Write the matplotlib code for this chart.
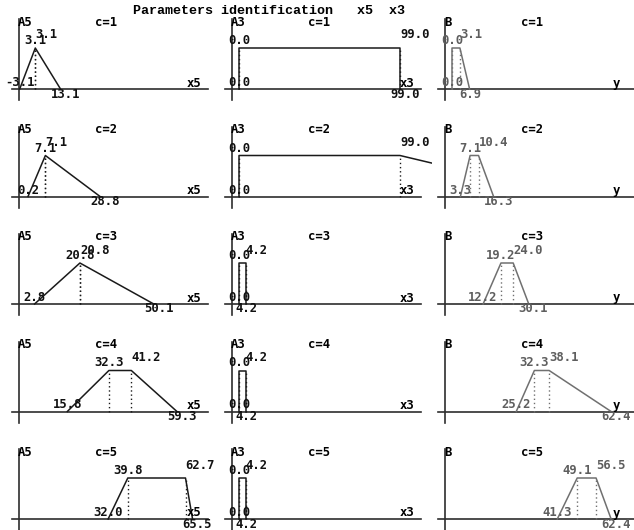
import matplotlib
matplotlib.use("Agg")
import matplotlib.pyplot as plt

W, H = 634, 530
DPI = 100

# cluster names and trapezoid breakpoints (a, b, c, d) for each variable
clusters = ["c=1", "c=2", "c=3", "c=4", "c=5"]
a5_params = [(-3.1, 3.1, 3.1, 13.1),
             (0.2, 7.1, 7.1, 28.8),
             (2.8, 20.8, 20.8, 50.1),
             (15.8, 32.3, 41.2, 59.3),
             (32.0, 39.8, 62.7, 65.5)]
a3_params = [(0.0, 0.0, 99.0, 99.0),
             (0.0, 0.0, 99.0, 205.0),
             (0.0, 0.0, 4.2, 4.2),
             (0.0, 0.0, 4.2, 4.2),
             (0.0, 0.0, 4.2, 4.2)]
b_params = [(0.0, 0.0, 3.1, 6.9),
            (3.3, 7.1, 10.4, 16.3),
            (12.2, 19.2, 24.0, 30.1),
            (25.2, 32.3, 38.1, 62.4),
            (41.3, 49.1, 56.5, 62.4)]

set_names = ["A5", "A3", "B"]
var_names = ["x5", "x3", "y"]
params = [a5_params, a3_params, b_params]

# screen layout (pixels)
axis_px = [19, 232, 445]
zero_px = [27.5, 239, 452]
px_per_unit = [2.52, 1.626, 2.55]
base_px = [89 + 107.5 * i for i in range(5)]
top_h = 41  # height of membership 1.0 in pixels

line_col = ["#1a1a1a", "#1a1a1a", "#707070"]
num_col = ["#111111", "#111111", "#5e5e5e"]
axis_col = "#2e2e2e"

font = dict(family="DejaVu Sans Mono", size=8.8, weight="bold")

fig = plt.figure(figsize=(W / DPI, H / DPI), dpi=DPI, facecolor="white")


def make_axes(col, row):
    x0 = axis_px[col] - 20
    x1 = axis_px[col] + 200
    yb = base_px[row]
    ax = fig.add_axes([x0 / W, 1 - (yb + 14) / H, (x1 - x0) / W, 94 / H])
    ax.set_xlim((x0 - zero_px[col]) / px_per_unit[col],
                (x1 - zero_px[col]) / px_per_unit[col])
    ax.set_ylim(-14 / top_h, 80 / top_h)
    ax.axis("off")
    return ax


def label(ax, text, xy, dx, dy, ha, color):
    ax.annotate(text, xy, xytext=(dx, dy), textcoords="offset pixels",
                ha=ha, va="center", color=color, **font)


for col in range(3):
    for row in range(5):
        ax = make_axes(col, row)
        a, b, c, d = params[col][row]
        xa = (axis_px[col] - zero_px[col]) / px_per_unit[col]
        lo, hi = ax.get_xlim()

        # axes of the small plot
        ax.axhline(0, xmin=13 / 220, xmax=209 / 220, color=axis_col, lw=1.2)
        ax.axvline(xa, ymin=3 / 94, ymax=84 / 94, color=axis_col, lw=1.2)

        # membership function
        ax.plot([a, b, c, d], [0, 1, 1, 0], color=line_col[col], lw=1.1)
        for v in (b, c):
            ax.plot([v, v], [0, 1], color=line_col[col], lw=1.0,
                    ls=(0, (1, 2)))

        # headers
        label(ax, set_names[col], (xa, 0), -1, 67, "left", "black")
        label(ax, clusters[row], (xa, 0), 76, 67, "left", "black")
        label(ax, var_names[col], (xa, 0), 168, 6, "left", "black")

        # breakpoint values
        if lo <= a <= hi:
            label(ax, f"{a:.1f}", (a, 0), 0, 6.5, "center", num_col[col])
        if lo <= d <= hi:
            label(ax, f"{d:.1f}", (d, 0), -10, -5, "left", num_col[col])
        if lo <= b <= hi:
            label(ax, f"{b:.1f}", (b, 1), 0, 7.5, "center", num_col[col])
        if lo <= c <= hi:
            label(ax, f"{c:.1f}", (c, 1), 0, 13, "left", num_col[col])

fig.text(133 / W, 1 - 11 / H, "Parameters identification   x5  x3",
         family="Liberation Mono", size=9.6, weight="bold", ha="left",
         va="center", color="black")

fig.savefig("out.png", dpi=DPI, facecolor="white")
